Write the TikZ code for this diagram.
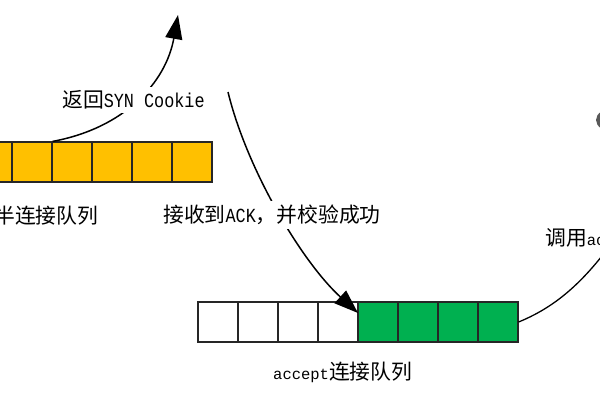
\documentclass[tikz,border=0pt]{standalone}
\usepackage{fontspec}
\usetikzlibrary{arrows.meta}
\newfontfamily\cjk{Noto Sans CJK SC}
\newfontfamily\mono{Liberation Mono}
\newfontfamily\narrowmono[FakeStretch=0.84]{Liberation Mono}
\definecolor{qyellow}{HTML}{FFC000}
\definecolor{qgreen}{HTML}{00B050}
\definecolor{qline}{HTML}{262626}
\begin{document}
\begin{tikzpicture}[x=1pt,y=-1pt,
  cell/.style={draw=qline,line width=1.2pt,minimum size=40pt,inner sep=0pt},
  flow/.style={line width=1.5pt,draw=black},
  bigtip/.style={-{Triangle[length=24pt,width=17pt]}},
  lbl/.style={anchor=west,inner sep=4pt,fill=white,text=black},
  zh/.style={font=\cjk\fontsize{20.8}{24}\selectfont}]
\useasboundingbox (0,0) rectangle (600,400);
\clip (0,0) rectangle (600,400);
% half-connection queue
\foreach \i/\x in {0/-8,1/32,2/72,3/112,4/152,5/192}
  \node[cell,fill=qyellow] (y\i) at (\x,162) {};
% accept queue
\foreach \i/\x in {0/218,1/258,2/298,3/338}
  \node[cell,fill=white] (w\i) at (\x,322) {};
\foreach \i/\x in {0/378,1/418,2/458,3/498}
  \node[cell,fill=qgreen] (g\i) at (\x,322) {};
% free ends
\coordinate (c1) at (178,15);
\coordinate (c2) at (228,92);
\coordinate (t2) at (358,313);
\coordinate (c3) at (640,200);
% connectors
\draw[flow,bigtip] (y1.north east) .. controls (125,128) and (166,82) .. (c1);
\draw[flow,bigtip] (c2) .. controls (247,170) and (302,262) .. (t2);
\draw[flow,line width=1.3pt] (g3.east) .. controls (560,305) and (595,275) .. (c3);
% partial grey shape at right edge
\fill[black!65] (614,120) ellipse [x radius=18pt, y radius=12pt];
% labels
\node[lbl,zh] (l1) at (58,100) {返回{\narrowmono\fontsize{20}{24}\selectfont SYN Cookie}};
\node[lbl,zh] (l2) at (159,215) {接收到{\narrowmono\fontsize{20}{24}\selectfont ACK}，并校验成功};
\node[lbl,zh,fill=none] (l3) at (-10,216) {半连接队列};
\node[lbl,zh,fill=none] (l4) at (541,239) {调用{\mono\fontsize{15.5}{20}\selectfont accept}};
\node[lbl,zh,fill=none] (l5) at (269,372) {{\mono\fontsize{15.5}{20}\selectfont accept}连接队列};
\end{tikzpicture}
\end{document}
